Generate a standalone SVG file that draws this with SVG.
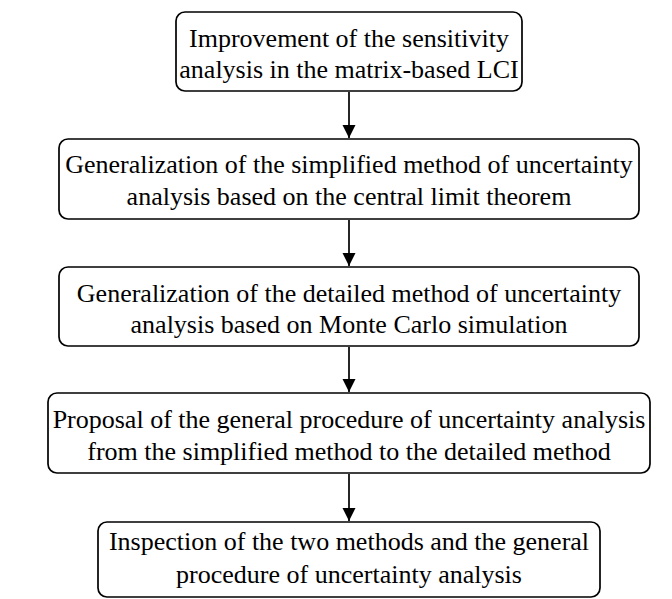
<svg xmlns="http://www.w3.org/2000/svg" width="672" height="599" viewBox="0 0 672 599">
  <style>
    .box { fill: #ffffff; stroke: #000000; stroke-width: 1.7; }
    .label { font-family: "Liberation Serif", "Times New Roman", serif; font-size: 26px; fill: #000000; text-anchor: middle; }
    .edge { stroke: #000000; stroke-width: 1.7; fill: none; }
  </style>
  <defs>
    <marker id="arrow" viewBox="0 0 13 19" refX="13" refY="9.5" markerWidth="13" markerHeight="19" markerUnits="userSpaceOnUse" orient="auto">
      <path d="M0,3 L13,9.5 L0,16 Z" fill="#000000"/>
    </marker>
  </defs>
  <rect width="672" height="599" fill="#ffffff"/>

  <g id="connectors">
    <line class="edge" x1="349" y1="92" x2="349" y2="138" marker-end="url(#arrow)"/>
    <line class="edge" x1="349" y1="220" x2="349" y2="266" marker-end="url(#arrow)"/>
    <line class="edge" x1="349" y1="347" x2="349" y2="392" marker-end="url(#arrow)"/>
    <line class="edge" x1="349" y1="474" x2="349" y2="521" marker-end="url(#arrow)"/>
  </g>

  <g id="step1">
    <rect class="box" x="176" y="12" width="346" height="79" rx="9"/>
    <text class="label" x="349" y="47">Improvement of the sensitivity</text>
    <text class="label" x="349" y="78">analysis in the matrix-based LCI</text>
  </g>

  <g id="step2">
    <rect class="box" x="59" y="139" width="580" height="80" rx="9"/>
    <text class="label" x="349" y="173">Generalization of the simplified method of uncertainty</text>
    <text class="label" x="349" y="205">analysis based on the central limit theorem</text>
  </g>

  <g id="step3">
    <rect class="box" x="59" y="267" width="580" height="79" rx="9"/>
    <text class="label" x="349" y="302">Generalization of the detailed method of uncertainty</text>
    <text class="label" x="349" y="333">analysis based on Monte Carlo simulation</text>
  </g>

  <g id="step4">
    <rect class="box" x="48" y="393" width="602" height="80" rx="9"/>
    <text class="label" x="349" y="428">Proposal of the general procedure of uncertainty analysis</text>
    <text class="label" x="349" y="460">from the simplified method to the detailed method</text>
  </g>

  <g id="step5">
    <rect class="box" x="98" y="522" width="502" height="75" rx="9"/>
    <text class="label" x="349" y="550">Inspection of the two methods and the general</text>
    <text class="label" x="349" y="583">procedure of uncertainty analysis</text>
  </g>
</svg>
